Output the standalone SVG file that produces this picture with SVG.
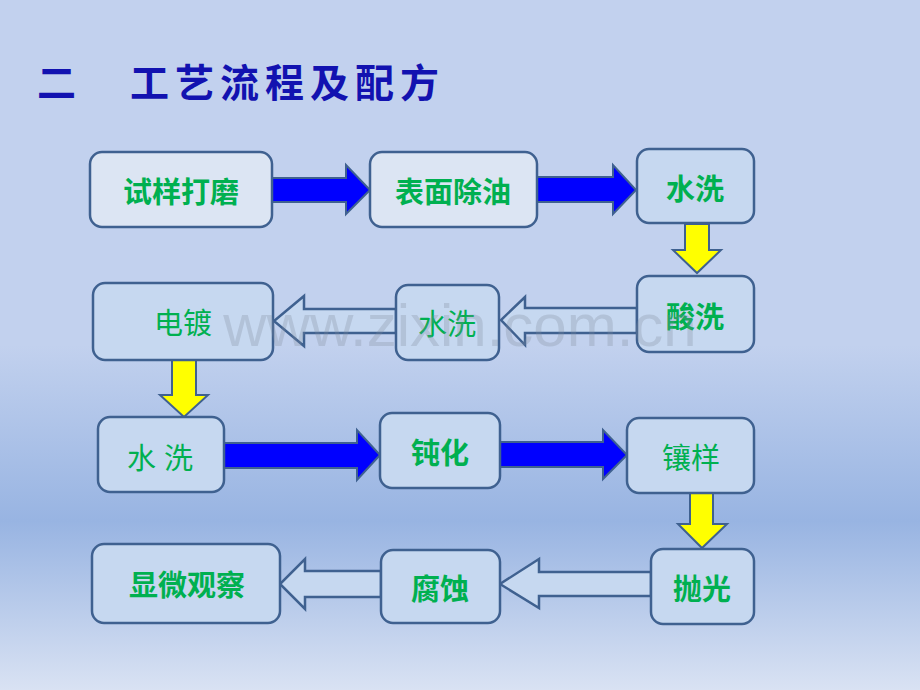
<svg xmlns="http://www.w3.org/2000/svg" width="920" height="690" viewBox="0 0 920 690">
<defs>
<linearGradient id="bg" x1="0" y1="0" x2="0" y2="1">
<stop offset="0" stop-color="#c2d1ee"/>
<stop offset="0.5" stop-color="#c2d1ee"/>
<stop offset="0.755" stop-color="#98b4e2"/>
<stop offset="1" stop-color="#d9e2f3"/>
</linearGradient>
<style>
.box{fill:#c6d8f0;stroke:#3f6190;stroke-width:2.5}
.lt{fill:#dce5f3}
.t{font-family:"Noto Sans CJK SC","Noto Sans",sans-serif;fill:#00b050;text-anchor:middle;dominant-baseline:central;font-size:29px}
.b{font-weight:bold}
.blue{fill:#0000ff;stroke:#3f6190;stroke-width:2}
.yel{fill:#ffff00;stroke:#3f6190;stroke-width:2}
.hol{fill:#c6d8f0;stroke:#3f6190;stroke-width:2.5}
.title{font-family:"Noto Sans CJK SC",sans-serif;font-weight:bold;font-size:39px;fill:#1212b0;dominant-baseline:central}
</style>
</defs>
<rect width="920" height="690" fill="url(#bg)"/>
<text class="title" x="37" y="80">二</text>
<text class="title" x="130" y="80" letter-spacing="6">工艺流程及配方</text>
<g id="connectors">
<polygon class="blue" points="272,178 346,178 346,165 370,190 346,214 346,202 272,202"/>
<polygon class="blue" points="537,177 613,177 613,165 636,190 613,214 613,202 537,202"/>
<polygon class="yel" points="685,224 709,224 709,250 721,250 697,273 673,250 685,250"/>
<polygon class="hol" points="637,308 525,308 525,297 501,320 525,345 525,333 637,333"/>
<polygon class="hol" points="396,309 304,309 304,296 274,321 304,346 304,333 396,333"/>
<polygon class="yel" points="172,360 196,360 196,395 208,395 184,417 160,395 172,395"/>
<polygon class="blue" points="224,443 357,443 357,430 380,455 357,480 357,468 224,468"/>
<polygon class="blue" points="500,442 603,442 603,430 627,455 603,479 603,467 500,467"/>
<polygon class="yel" points="690,493 713,493 713,524 727,524 702,548 678,524 690,524"/>
<polygon class="hol" points="651,572 539,572 539,559 500,584 539,608 539,596 651,596"/>
<polygon class="hol" points="381,571 305,571 305,559 280,584 305,609 305,597 381,597"/>
</g>
<g id="n1"><rect class="box lt" x="90" y="152" width="182" height="75" rx="12"/><text class="t b" x="181" y="190">试样打磨</text></g>
<g id="n2"><rect class="box lt" x="370" y="152" width="167" height="75" rx="12"/><text class="t b" x="453" y="190">表面除油</text></g>
<g id="n3"><rect class="box" x="637" y="149" width="117" height="74" rx="12"/><text class="t b" x="695" y="187">水洗</text></g>
<g id="n4"><rect class="box" x="637" y="276" width="117" height="76" rx="12"/><text class="t b" x="695" y="315">酸洗</text></g>
<g id="n5"><rect class="box" x="396" y="285" width="103" height="75" rx="12"/><text class="t" x="447" y="322" font-size="31">水洗</text></g>
<g id="n6"><rect class="box" x="93" y="283" width="180" height="77" rx="12"/><text class="t" x="183" y="321">电镀</text></g>
<g id="n7"><rect class="box" x="98" y="417" width="126" height="75" rx="12"/><text class="t" x="164" y="456" font-size="36" letter-spacing="8">水洗</text></g>
<g id="n8"><rect class="box" x="380" y="413" width="120" height="75" rx="12"/><text class="t b" x="440" y="451">钝化</text></g>
<g id="n9"><rect class="box" x="627" y="418" width="127" height="75" rx="12"/><text class="t" x="691" y="456">镶样</text></g>
<g id="n10"><rect class="box" x="651" y="549" width="103" height="75" rx="12"/><text class="t b" x="702" y="587">抛光</text></g>
<g id="n11"><rect class="box" x="381" y="550" width="119" height="73" rx="12"/><text class="t b" x="440" y="587">腐蚀</text></g>
<g id="n12"><rect class="box" x="92" y="544" width="188" height="79" rx="12"/><text class="t b" x="187" y="583">显微观察</text></g>
<text x="460" y="346" font-family="Liberation Sans, Arial, sans-serif" font-size="60" fill="#7f8a99" fill-opacity="0.28" text-anchor="middle">www.zixin.com.cn</text>
</svg>
